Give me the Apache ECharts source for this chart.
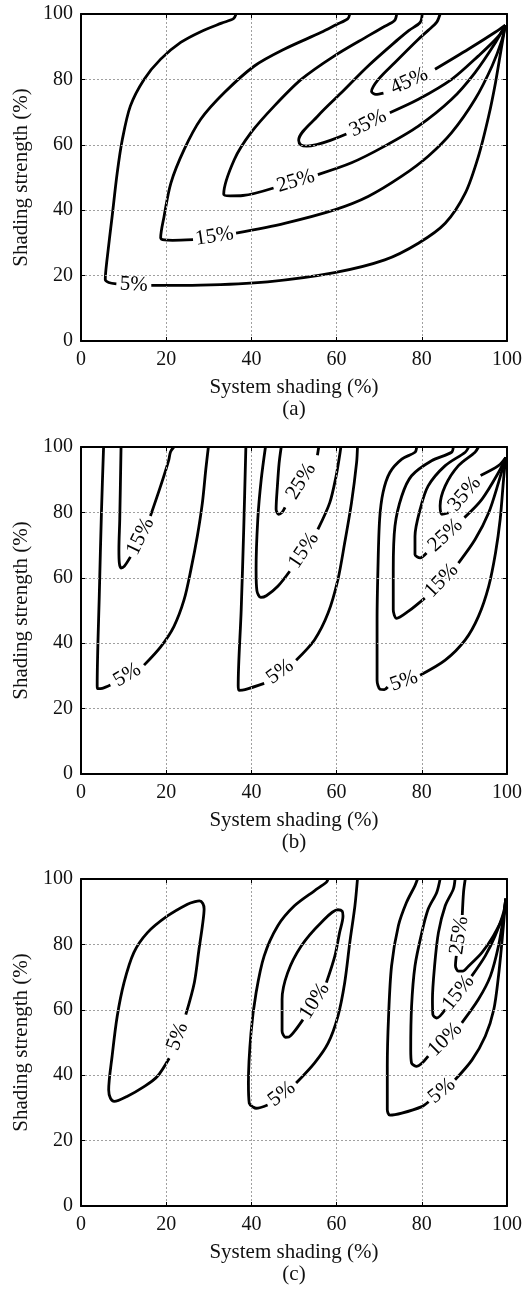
<!DOCTYPE html>
<html>
<head>
<meta charset="utf-8">
<script src="https://cdn.jsdelivr.net/npm/echarts@6/dist/echarts.min.js"></script>
<style>
html,body{margin:0;padding:0;background:#fff;}
#chart{width:526px;height:1292px;}
</style>
</head>
<body>
<div id="chart"></div>
<script>
// ---------- DATA ----------
const xTicks = [0, 20, 40, 60, 80, 100];
const yTicks = [0, 20, 40, 60, 80, 100];
const captions = ['(a)', '(b)', '(c)'];
const xTitle = 'System shading (%)';
const yTitle = 'Shading strength (%)';

// Each contour: [segment before label, segment after label]; label sits in the gap.
// Panel (a)
const a_5 = [
  [[36.4,100],[35.8,98.6],[33,97.2],[28.1,94.6],[23.4,91.3],[18.7,86.2],[14.8,80],[11.6,71.9],[9.7,61.6],[8.5,51.4],[7.3,38],[6.1,24.8],[5.7,18.8],[6.5,17.9],[8.3,17.5]],
  [[16.5,17.0],[28.1,17.1],[43.8,18.1],[59.5,20.9],[71.3,24.8],[79.2,29.9],[85.5,36],[90.2,45.2],[93.3,56.5],[95.7,68.8],[97.3,79],[98.6,89],[99.6,96.6]]
];
const a_15 = [
  [[63.1,100],[62.6,98.5],[60,96.8],[56.4,94.4],[47.8,89.3],[40.7,84.1],[33.6,75.9],[28.1,67.8],[24.2,58.5],[21.1,48.3],[19.5,38.1],[18.7,31.6],[19.6,30.9],[21.5,30.8],[26.3,31.0]],
  [[36.4,33.0],[47.8,36],[59.5,40.1],[67.4,44.2],[75.3,50.4],[81.5,56.5],[87,63.7],[92.5,73.9],[96.5,84.1],[98.8,92],[99.6,96.6]]
];
const a_25 = [
  [[74.1,100],[73.6,98],[71,96],[67.4,93.3],[59.5,87.2],[51.7,80],[45.4,71.9],[39.9,63.7],[36,55.5],[33.5,44.9],[35,44.4],[38,44.5],[45.2,46.8]],
  [[55.6,50.9],[63.5,54.5],[71.3,59.6],[79.2,65.7],[87,73.9],[92.5,82.1],[97.3,91.3],[99.6,96.6]]
];
const a_35 = [
  [[80.1,100],[79.6,97.4],[77,95],[74.5,92.3],[67.4,84.1],[61.1,75.9],[55.6,68.8],[51.1,61.4],[51.6,60],[53,59.6],[62.3,63.3]],
  [[72.5,69.8],[79.2,73.9],[87,80],[93.3,87.2],[98,93.2],[99.6,96.6]]
];
const a_45 = [
  [[84.3,100],[83.5,97.5],[81.5,95],[79.2,92.3],[73.7,85.2],[69.8,80],[68.2,76.3],[69.2,75.4],[71,75.8]],
  [[83.1,83.1],[91,89.3],[97.3,94.5],[99.6,96.6]]
];
// Panel (b)
const b1_5 = [
  [[5.3,100],[4.8,80],[4.3,55],[3.8,27],[3.9,26.1],[5.0,26.2],[6.9,27.2]],
  [[14.8,33.3],[18.7,38.9],[21.8,45.1],[24.2,53.3],[25.8,62.5],[27.3,72.7],[28.5,83],[29.3,93.2],[29.9,100]]
];
const b1_15 = [
  [[9.4,100],[9.1,78],[8.9,68.6],[9.0,64.5],[9.4,63],[10.2,63.6],[11.6,66.4]],
  [[16.3,78.9],[18.7,88.1],[20.6,96],[21.0,98.5],[21.8,100]]
];
const b2_5 = [
  [[38.7,100],[38.2,75],[37.6,50],[36.9,27],[37.1,25.6],[38.5,25.8],[43,27.7]],
  [[50.5,34.8],[54.8,41],[58,49.2],[60.3,59.4],[61.9,70.7],[63.5,83],[64.7,95.3],[64.9,100]]
];
const b2_15 = [
  [[43.3,100],[42.3,90],[41.5,77.9],[41.1,62.5],[41.3,56],[42.2,54],[43.5,54.5],[46.2,57.4],[49.0,62.0]],
  [[55.6,74.8],[58.4,83],[59.9,91.2],[60.7,97.3],[61,100]]
];
const b2_25 = [
  [[47,100],[46.5,95],[46.1,88],[45.8,81],[46.4,79.4],[47.2,80],[47.9,81.5]],
  [[55.5,97.5],[55.8,100]]
];
const b3_5 = [
  [[78.8,100],[78.4,98.4],[75.3,96.3],[72.5,92.2],[70.9,86.1],[70.1,77.9],[69.7,62.5],[69.5,47.1],[69.5,28.7],[70.2,25.9],[71.2,25.8],[72,26.6]],
  [[79.6,30.2],[85.5,34.8],[90.2,41],[93.3,48.2],[95.7,57.4],[97.3,67.6],[98.4,77.9],[99.2,90.2],[99.7,96.8]]
];
const b3_15 = [
  [[87.4,100],[87,98.4],[82.3,95.8],[77.6,91.2],[75.3,85],[73.7,75.8],[73.3,62.5],[73.3,50.2],[74.1,47.6],[76.8,49.7],[80.7,53.8]],
  [[88.6,64.5],[92.5,71.7],[95.7,79.9],[98,89.1],[99.7,96.8]]
];
const b3_25 = [
  [[91,100],[90.2,98.4],[85.5,94.3],[81.5,88.1],[79.6,80.9],[78.4,72.7],[78.4,67.1],[79.6,66.1],[81.1,67.6]],
  [[90,78.4],[94.1,84],[98,92.2],[99.7,96.8]]
];
const b3_35 = [
  [[93.3,100],[92.5,98.4],[88.6,94.3],[85.5,88.1],[84.3,82],[84.7,79.4],[86.3,79.9]],
  [[93.8,91.3],[98,94.3],[99.7,96.8]]
];
// Panel (c)
const c1_5 = [  // closed loop: label between last point and first point
  [[24.6,58.5],[26.6,68.3],[27.7,78.5],[28.5,85.7],[28.9,90.8],[28.6,92.5],[27.8,93.3],[26.8,93.1],[25,92.3],[20.3,88.7],[15.6,83.6],[12.4,77.5],[10.1,68.3],[8.5,58],[7.3,45.8],[6.5,35.5],[6.9,33],[7.8,32],[10.8,33.5],[14.8,36.5],[17.9,39.6],[20.7,45.2]],
  []
];
const c2_5 = [
  [[58,100],[57.6,99],[54.8,96.4],[50.1,91.8],[46.2,85.7],[43,76.5],[41.1,65.2],[39.9,52.9],[39.3,37.6],[39.5,31.4],[40.5,30.2],[41.1,29.9],[43.8,30.9]],
  [[50.5,37.6],[54.8,43.7],[58,49.8],[60.3,58],[61.9,68.3],[63.1,80.6],[64.3,91.8],[64.9,100]]
];
const c2_10 = [  // closed loop
  [[57.6,68.3],[59.6,76.5],[60.7,83.6],[61.5,88.7],[61.3,90.2],[60.3,90.6],[56.4,86.7],[51.7,79.5],[48.5,71.3],[47.2,63.2],[47.2,53.5],[48.0,51.6],[48.8,51.7],[50.1,53.4],[52.1,57]],
  []
];
const c3_5 = [
  [[79,100],[78.4,98],[76.4,92.8],[74.5,85.7],[72.9,73.4],[72.2,58],[71.9,42.7],[71.9,29.4],[72.5,27.8],[75.3,28.4],[80,30.4],[81.6,31.9]],
  [[87.8,38.6],[91.8,44.7],[94.9,51.9],[96.9,60.1],[98,70.3],[98.8,80.6],[99.5,90.8],[99.7,94]]
];
const c3_10 = [
  [[84.3,100],[83.5,95.9],[81.5,90.8],[80,83.6],[78.4,73.4],[77.6,61.1],[77.4,47.8],[77.6,43.7],[78.8,42.7],[81.5,45.8]],
  [[89.4,56],[93.3,63.2],[96.1,70.3],[98,79.5],[99.2,88.7],[99.7,94]]
];
const c3_15 = [
  [[87.8,100],[87.4,96.9],[85.5,91.8],[83.9,83.6],[83,73.4],[82.5,63.2],[82.6,58.5],[83.5,57.5],[85.5,60.1]],
  [[91.7,70.3],[94.9,76.5],[97.2,82.6],[99.2,89.8],[99.7,94]]
];
const c3_25 = [
  [[90.2,100],[89.8,96],[89.5,89]],
  [[88.1,76.5],[87.9,73.5],[88.6,71.8],[89.6,71.8],[91,73.4],[94.1,77.5],[96.8,82.6],[99.2,89],[99.7,94]]
];

const panels = [
  [[a_5,'5%'],[a_15,'15%'],[a_25,'25%'],[a_35,'35%'],[a_45,'45%']],
  [[b1_5,'5%'],[b1_15,'15%'],[b2_5,'5%'],[b2_15,'15%'],[b2_25,'25%'],[b3_5,'5%'],[b3_15,'15%'],[b3_25,'25%'],[b3_35,'35%']],
  [[c1_5,'5%'],[c2_5,'5%'],[c2_10,'10%'],[c3_5,'5%'],[c3_10,'10%'],[c3_15,'15%'],[c3_25,'25%']]
];

// ---------- LAYOUT ----------
const FONT = '"Liberation Serif", "Times New Roman", serif';
const GL = 81, GW = 426, GH = 327;
const tops = [14, 447, 879];

const chart = echarts.init(document.getElementById('chart'), null, {renderer: 'canvas'});

const grids = [], xAxes = [], yAxes = [], series = [], graphics = [];
const gridLine = {show: true, showMinLine: false, showMaxLine: false,
                  lineStyle: {color: '#a0a0a0', width: 1, type: [2, 2]}};
tops.forEach((t, i) => {
  grids.push({left: GL, top: t, width: GW, height: GH, show: false, containLabel: false});
  const tickStyle = {show: true, inside: true, length: 4, lineStyle: {color: '#000', width: 1}};
  const axLine = {show: true, onZero: false, lineStyle: {color: '#000', width: 2}};
  xAxes.push({
    type: 'value', gridIndex: i, min: 0, max: 100, interval: 20, position: 'bottom', z: 5,
    axisLine: axLine, axisTick: tickStyle,
    axisLabel: {show: true, margin: 9, fontFamily: FONT, fontSize: 20, color: '#111'},
    splitLine: gridLine,
    name: xTitle, nameLocation: 'middle', nameGap: 36,
    nameTextStyle: {fontFamily: FONT, fontSize: 21, color: '#111'}
  });
  xAxes.push({
    type: 'value', gridIndex: i, min: 0, max: 100, interval: 20, position: 'top', z: 5,
    axisLine: axLine, axisTick: tickStyle, axisLabel: {show: false}, splitLine: {show: false}
  });
  yAxes.push({
    type: 'value', gridIndex: i, min: 0, max: 100, interval: 20, position: 'left', z: 5,
    axisLine: axLine, axisTick: tickStyle,
    axisLabel: {show: true, margin: 8, fontFamily: FONT, fontSize: 20, color: '#111'},
    splitLine: gridLine,
    name: yTitle, nameLocation: 'middle', nameGap: 47, nameRotate: 90,
    nameTextStyle: {fontFamily: FONT, fontSize: 21, color: '#111'}
  });
  yAxes.push({
    type: 'value', gridIndex: i, min: 0, max: 100, interval: 20, position: 'right', z: 5,
    axisLine: axLine, axisTick: tickStyle, axisLabel: {show: false}, splitLine: {show: false}
  });
  graphics.push({
    type: 'text', x: GL + GW / 2, y: t + GH + 68,
    style: {text: captions[i], font: '21px ' + FONT, fill: '#111', textAlign: 'center', textVerticalAlign: 'middle'}
  });

  const labelData = [];
  panels[i].forEach(([contour, text]) => {
    const [s1, s2] = contour;
    [s1, s2].forEach(seg => {
      if (!seg.length) return;
      series.push({
        type: 'line', xAxisIndex: 2 * i, yAxisIndex: 2 * i, data: seg,
        showSymbol: false, symbol: 'none', smooth: 0.3, silent: true, animation: false,
        lineStyle: {color: '#000', width: 2.8}, clip: true
      });
    });
    const p0 = s1[s1.length - 1];
    const p1 = s2.length ? s2[0] : s1[0];
    labelData.push([(p0[0] + p1[0]) / 2, (p0[1] + p1[1]) / 2, p0[0], p0[1], p1[0], p1[1], text]);
  });
  series.push({
    type: 'custom', xAxisIndex: 2 * i, yAxisIndex: 2 * i, silent: true, animation: false, z: 10,
    data: labelData,
    renderItem: function (params, api) {
      const d = labelData[params.dataIndex];
      const c = api.coord([d[0], d[1]]);
      const a = api.coord([d[2], d[3]]);
      const b = api.coord([d[4], d[5]]);
      let ang = Math.atan2(-(b[1] - a[1]), b[0] - a[0]);
      if (ang > Math.PI / 2) ang -= Math.PI;
      if (ang < -Math.PI / 2) ang += Math.PI;
      return {
        type: 'text', x: c[0], y: c[1], rotation: ang,
        style: {text: d[6], fill: '#000', font: '21px ' + FONT, align: 'center', verticalAlign: 'middle'}
      };
    }
  });
});

chart.setOption({
  backgroundColor: '#fff',
  animation: false,
  grid: grids, xAxis: xAxes, yAxis: yAxes, series: series, graphic: graphics
});
</script>
</body>
</html>
